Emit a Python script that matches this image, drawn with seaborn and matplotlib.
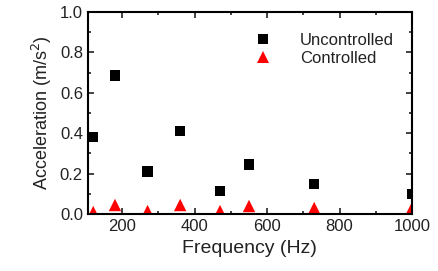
import matplotlib
matplotlib.use("Agg")
import matplotlib.pyplot as plt
import seaborn as sns
import pandas as pd
from matplotlib.ticker import MultipleLocator

freq = [120, 180, 270, 360, 470, 550, 730, 1000]
uncontrolled = [0.38, 0.685, 0.21, 0.41, 0.115, 0.245, 0.15, 0.10]
controlled = [0.01, 0.045, 0.015, 0.045, 0.015, 0.04, 0.03, 0.03]

sns.set_style("ticks")
plt.rcParams['font.family'] = ['Liberation Sans', 'DejaVu Sans']

df = pd.DataFrame({
    "Frequency": freq * 2,
    "Acceleration": uncontrolled + controlled,
    "Series": ["Uncontrolled"] * len(freq) + ["Controlled"] * len(freq),
})

fig = plt.figure(figsize=(4.39, 2.71), dpi=100)
ax = fig.add_axes([0.2, 0.21, 0.7385, 0.746])
sns.scatterplot(data=df, x="Frequency", y="Acceleration", hue="Series", style="Series",
                size="Series", sizes={"Uncontrolled": 55, "Controlled": 80},
                palette={"Uncontrolled": "black", "Controlled": "red"},
                markers={"Uncontrolled": "s", "Controlled": "^"},
                linewidth=0, ax=ax)
ax.set_xlim(105, 1000)
ax.set_ylim(0, 1.0)
ax.xaxis.set_major_locator(MultipleLocator(200))
ax.xaxis.set_minor_locator(MultipleLocator(100))
ax.yaxis.set_major_locator(MultipleLocator(0.2))
ax.yaxis.set_minor_locator(MultipleLocator(0.1))
ax.tick_params(which="both", direction="in", top=True, right=True, labeltop=False, labelright=False,
               width=1.2, labelsize=12, colors="#222222")
ax.tick_params(which="major", length=4)
ax.tick_params(which="minor", length=2.5)
for s in ax.spines.values():
    s.set_linewidth(1.5)
    s.set_visible(True)
    s.set_color("black")
ax.set_xlabel("Frequency (Hz)", fontsize=14, color="#222222")
ax.set_ylabel("Acceleration (m/s$^2$)", fontsize=13, color="#222222")
leg = ax.legend(title=None, frameon=False, loc="upper right", bbox_to_anchor=(0.99, 0.97),
                fontsize=12, handletextpad=1.2, labelspacing=0.2)
for t in leg.get_texts():
    t.set_color("#222222")
fig.savefig("out.png", dpi=100)
